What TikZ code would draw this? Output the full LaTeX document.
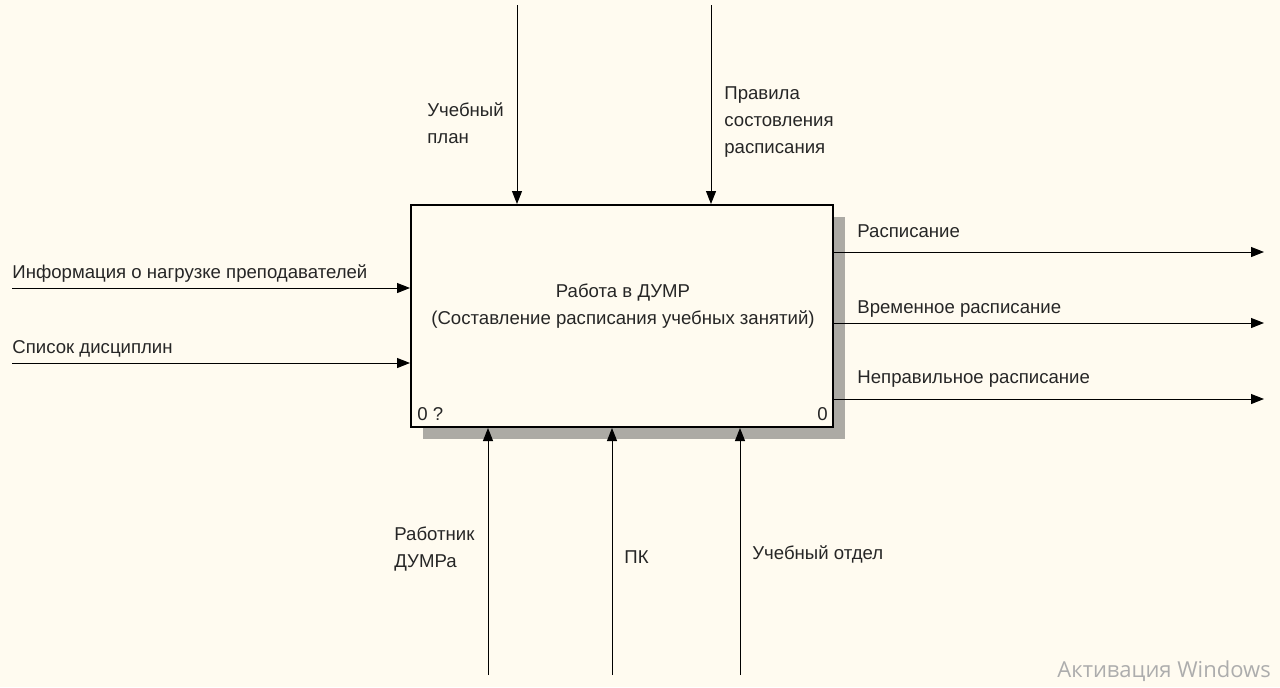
\documentclass[tikz,border=0pt]{standalone}
\usepackage{fontspec}
\setmainfont{Liberation Sans}
\newfontfamily\winfont{Open Sans}
\usetikzlibrary{arrows.meta}
\definecolor{paper}{RGB}{255,251,240}
\definecolor{shadowgray}{RGB}{172,170,164}

\begin{document}
\begin{tikzpicture}[x=0.5pt, y=-0.5pt,
    font=\fontsize{9.3}{13.5}\selectfont,
    arr/.style={-{Triangle[length=6.5pt,width=5pt]}, line width=0.5pt},
    lbl/.style={anchor=base west, inner sep=0pt, align=left, text=black!85}]
  \def\shadowsize{12}

  \useasboundingbox[fill=paper] (0,0) rectangle (1280,687);

  % shadow and the function box
  \fill[shadowgray] (411+\shadowsize,205+\shadowsize) rectangle (833+\shadowsize,427+\shadowsize);
  \node[draw, line width=1pt, fill=paper, inner sep=0pt,
        minimum width=211pt, minimum height=111pt] (func) at (622,316) {};
  % base of a two-line node is its last line
  \node[align=center, anchor=base, inner sep=0pt, text=black!85] (title) at (623,324)
    {Работа в ДУМР\\(Составление расписания учебных занятий)};
  \node[lbl] (num) at (417,420) {0 ?};
  \node[anchor=base east, inner sep=0pt, text=black!85] (cost) at (828,420) {0};

  % controls
  \coordinate (plan) at (517,5);
  \coordinate (rules) at (711,5);
  \draw[arr] (plan) -- (plan |- func.north);
  \draw[arr] (rules) -- (rules |- func.north);
  \node[lbl] (planlbl) at (427,143) {Учебный\\план};
  \node[lbl] (ruleslbl) at (724,153) {Правила\\состовления\\расписания};

  % inputs
  \coordinate (load) at (12,288);
  \coordinate (subj) at (12,363);
  \draw[arr] (load) -- (load -| func.west);
  \draw[arr] (subj) -- (subj -| func.west);
  \node[lbl] (loadlbl) at (12,278) {Информация о нагрузке преподавателей};
  \node[lbl] (subjlbl) at (12,353) {Список дисциплин};

  % outputs
  \coordinate (sched) at (1264,252);
  \coordinate (temp) at (1264,323);
  \coordinate (wrong) at (1264,399);
  \draw[arr] (sched -| func.east) -- (sched);
  \draw[arr] (temp -| func.east) -- (temp);
  \draw[arr] (wrong -| func.east) -- (wrong);
  \node[lbl] (schedlbl) at (857,237) {Расписание};
  \node[lbl] (templbl) at (857,313) {Временное расписание};
  \node[lbl] (wronglbl) at (857,383) {Неправильное расписание};

  % mechanisms
  \coordinate (worker) at (488,675);
  \coordinate (pc) at (612,675);
  \coordinate (dept) at (740,675);
  \draw[arr] (worker) -- (worker |- func.south);
  \draw[arr] (pc) -- (pc |- func.south);
  \draw[arr] (dept) -- (dept |- func.south);
  \node[lbl] (workerlbl) at (394,567) {Работник\\ДУМРа};
  \node[lbl] (pclbl) at (624,563) {ПК};
  \node[lbl] (deptlbl) at (752,559) {Учебный отдел};

  \node[anchor=base west, inner sep=0pt, text=black!32,
        font=\winfont\fontsize{11}{13}\selectfont] (wm) at (1057,677) {Активация Windows};
\end{tikzpicture}
\end{document}
